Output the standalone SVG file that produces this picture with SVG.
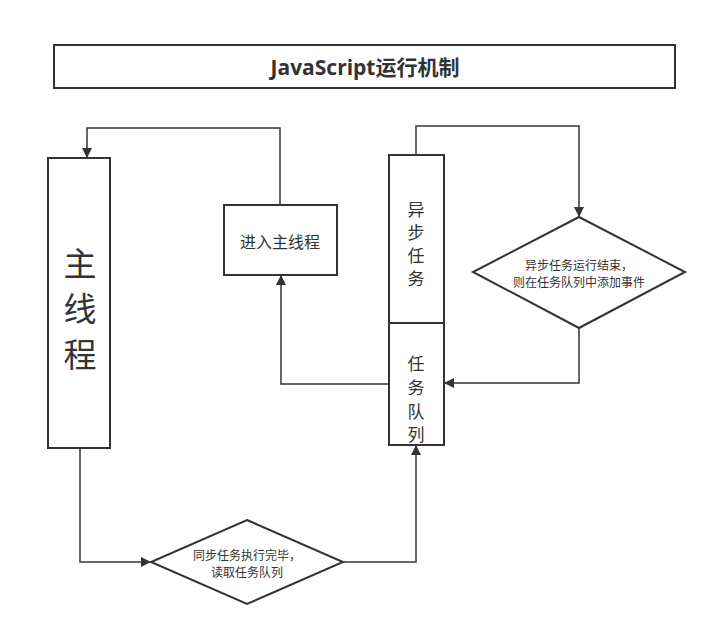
<svg xmlns="http://www.w3.org/2000/svg" width="717" height="637" viewBox="0 0 717 637">
<defs>
<marker id="a" markerWidth="10" markerHeight="10" refX="9" refY="5" orient="auto" markerUnits="userSpaceOnUse"><path d="M0,0 L10,5 L0,10 Z" fill="#333"/></marker>
<style>
.s{fill:#fff;stroke:#333;stroke-width:2}
.t{font-family:"Noto Sans CJK SC","Noto Sans",sans-serif;fill:#333;text-anchor:middle;dominant-baseline:central}
.c{fill:none;stroke:#333;stroke-width:1.5;marker-end:url(#a)}
</style>
</defs>
<rect width="717" height="637" fill="#fff"/>
<g id="title"><rect class="s" x="54" y="45" width="621" height="43"/><text class="t" x="365" y="67" font-size="21" font-weight="bold" style="font-family:'Open Sans','Noto Sans CJK SC',sans-serif">JavaScript运行机制</text></g>
<g id="main"><rect class="s" x="48" y="158" width="62" height="290"/>
<text class="t" font-size="33" x="80" y="262">主</text><text class="t" font-size="33" x="80" y="307">线</text><text class="t" font-size="33" x="80" y="353">程</text></g>
<g id="enter"><rect class="s" x="224" y="205" width="113" height="70"/><text class="t" font-size="16" x="280" y="241">进入主线程</text></g>
<g id="async"><rect class="s" x="389" y="155" width="55" height="168"/>
<text class="t" font-size="17" x="416" y="208">异</text><text class="t" font-size="17" x="416" y="231">步</text><text class="t" font-size="17" x="416" y="254">任</text><text class="t" font-size="17" x="416" y="277">务</text></g>
<g id="queue"><rect class="s" x="389" y="323" width="55" height="122"/>
<text class="t" font-size="17" x="416" y="362">任</text><text class="t" font-size="17" x="416" y="386">务</text><text class="t" font-size="17" x="416" y="410">队</text><text class="t" font-size="17" x="416" y="433">列</text></g>
<g id="d1"><path class="s" d="M579,217 L685,272 L579,328 L473,272 Z"/><text class="t" font-size="12" x="579" y="272"><tspan x="579" dy="-8">异步任务运行结束，</tspan><tspan x="579" dy="17">则在任务队列中添加事件</tspan></text></g>
<g id="d2"><path class="s" d="M247,520 L343,562 L247,604 L151,562 Z"/><text class="t" font-size="12" x="247" y="562"><tspan x="247" dy="-8">同步任务执行完毕，</tspan><tspan x="247" dy="17">读取任务队列</tspan></text></g>
<g id="connectors">
<path class="c" d="M280,205 V128 H87 V157"/>
<path class="c" d="M80,448 V562 H150"/>
<path class="c" d="M343,562 H416 V446"/>
<path class="c" d="M389,384 H281 V276"/>
<path class="c" d="M416,155 V126 H579 V216"/>
<path class="c" d="M579,328 V383 H445"/>
</g>
</svg>
